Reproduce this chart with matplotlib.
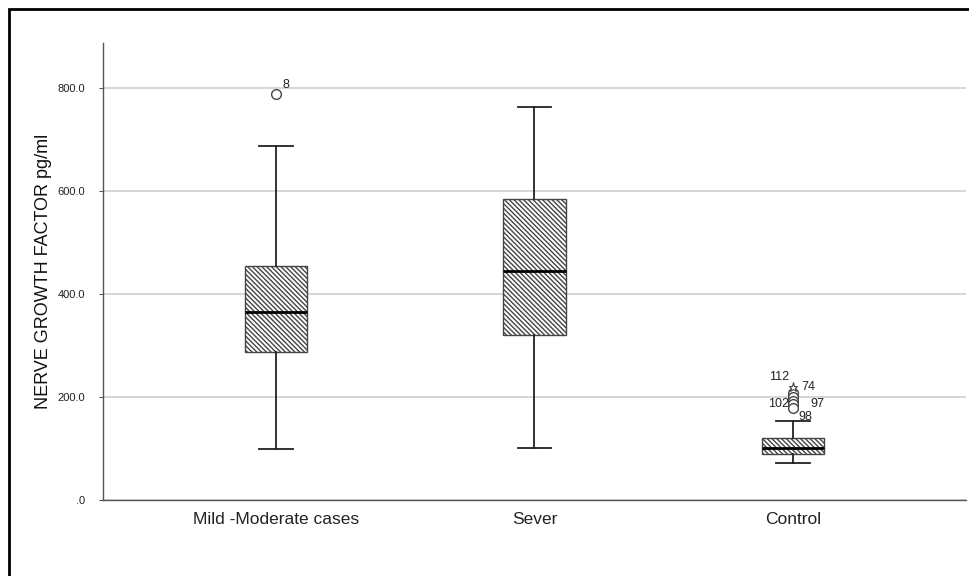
import matplotlib
matplotlib.use("Agg")
import matplotlib.pyplot as plt
from matplotlib.patches import Rectangle

plt.rcParams['font.family'] = ['Liberation Sans', 'DejaVu Sans']
plt.rcParams['hatch.linewidth'] = 1.0
plt.rcParams['hatch.color'] = '#333333'

categories = ["Mild -Moderate cases", "Sever", "Control"]
q1 = [287, 321, 90]
median = [365, 444, 100]
q3 = [454, 584, 121]
whisker_low = [99, 101, 71]
whisker_high = [688, 762, 154]
outliers = [[788], [], [208, 200, 193, 186, 179]]
outlier_ids = [["8"], [], ["112", "", "102", "97", "98"]]
extremes = [[], [], [219]]
extreme_ids = [[], [], ["74"]]
yticks = [0, 200, 400, 600, 800]
ytick_labels = [".0", "200.0", "400.0", "600.0", "800.0"]

fig = plt.figure(figsize=(9.7, 5.76), dpi=100)
ax = fig.add_axes([103/970, 76/576, (966-103)/970, (533-76)/576])

stats = []
for i, c in enumerate(categories):
    stats.append(dict(label=c, q1=q1[i], med=median[i], q3=q3[i],
                      whislo=whisker_low[i], whishi=whisker_high[i],
                      fliers=outliers[i]))
pos = list(range(len(categories)))
bp = ax.bxp(stats, positions=pos, widths=0.24, patch_artist=True,
            showfliers=True,
            boxprops=dict(facecolor='white', edgecolor='#444444', linewidth=1.0,
                          hatch='\\' * 7),
            medianprops=dict(color='black', linewidth=2.0),
            whiskerprops=dict(color='#222222', linewidth=1.3),
            capprops=dict(color='#222222', linewidth=1.3),
            capwidths=0.13,
            flierprops=dict(marker='o', markersize=7, markerfacecolor='white',
                            markeredgecolor='#444444', markeredgewidth=1.0, linestyle='none'))

for i in pos:
    if extremes[i]:
        ax.plot([i]*len(extremes[i]), extremes[i], linestyle='none', marker='*',
                markersize=6.5, markerfacecolor='white', markeredgecolor='#444444',
                markeredgewidth=0.8, zorder=4)

label_offsets = {"8": (10, 9), "112": (-14, 16), "102": (-14, -3), "97": (24, 0), "98": (12, -9),
                 "74": (15, 0)}
for i in pos:
    for v, lab in zip(outliers[i], outlier_ids[i]):
        if lab:
            ax.annotate(lab, (i, v), xytext=label_offsets[lab], textcoords='offset pixels',
                        ha='center', va='center', fontsize=9, color='#222222')
    for v, lab in zip(extremes[i], extreme_ids[i]):
        ax.annotate(lab, (i, v), xytext=label_offsets[lab], textcoords='offset pixels',
                    ha='center', va='center', fontsize=9, color='#222222')

ax.set_xlim(-0.67, 2.67)
ax.set_ylim(0, 887)
ax.set_yticks(yticks)
ax.set_yticklabels(ytick_labels, fontsize=8, color='#222222')
ax.set_xticks(pos)
ax.set_xticklabels(categories, fontsize=12.5, color='#222222')
ax.tick_params(axis='x', length=0, pad=9)
ax.tick_params(axis='y', length=3, width=0.8, color='#555555', pad=10)
ax.yaxis.grid(True, color='#cfcfcf', linewidth=1.2)
ax.set_axisbelow(True)
for s in ['top', 'right']:
    ax.spines[s].set_visible(False)
for s in ['left', 'bottom']:
    ax.spines[s].set_color('#555555')
    ax.spines[s].set_linewidth(1.0)
ax.set_ylabel("NERVE GROWTH FACTOR pg/ml", fontsize=13, color='#111111')
ax.yaxis.set_label_coords(-(103-52)/863, 0.5)

fig.patches.append(Rectangle((9/970, -0.05), 1.1, (567/576) + 0.05, transform=fig.transFigure,
                             fill=False, edgecolor='black', linewidth=2.0))

fig.savefig("out.png", dpi=100, facecolor='white')
